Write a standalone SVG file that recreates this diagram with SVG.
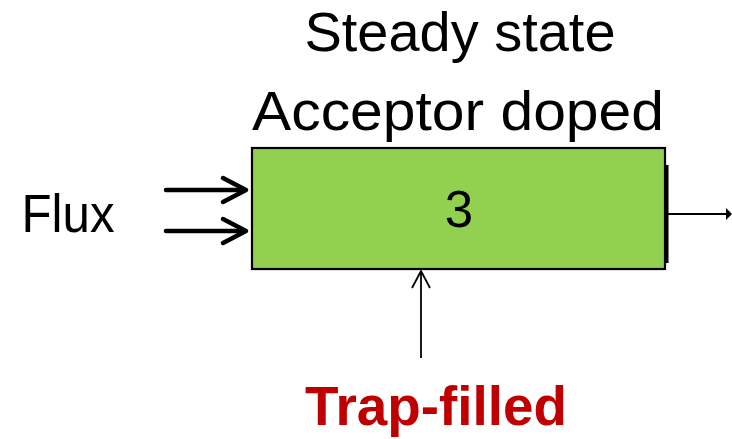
<svg xmlns="http://www.w3.org/2000/svg" width="732" height="439" viewBox="0 0 732 439">
<style>
text{font-family:"Liberation Sans",Arial,sans-serif;fill:#000}
.title{font-size:56px}
.thick{stroke:#000;stroke-width:4.5;fill:none;stroke-linecap:round;stroke-linejoin:round}
.thin{stroke:#000;stroke-width:1.8;fill:none}
</style>
<rect width="732" height="439" fill="#fff"/>
<g id="title">
<text class="title" x="460" y="51" text-anchor="middle" textLength="311" lengthAdjust="spacingAndGlyphs">Steady state</text>
<text class="title" x="458" y="130" text-anchor="middle" textLength="412" lengthAdjust="spacingAndGlyphs">Acceptor doped</text>
</g>
<g id="flux">
<text x="68" y="232" font-size="54" text-anchor="middle" textLength="93" lengthAdjust="spacingAndGlyphs">Flux</text>
</g>
<g id="box">
<rect x="252" y="148" width="413" height="121" fill="#92D050" stroke="#000" stroke-width="2.2"/>
<rect x="665" y="165" width="3.5" height="98" fill="#000"/>
<text x="459" y="227" font-size="51" text-anchor="middle">3</text>
</g>
<g id="trap">
<text x="436" y="425" font-size="55" font-weight="bold" style="fill:#C00000" text-anchor="middle" textLength="262" lengthAdjust="spacingAndGlyphs">Trap-filled</text>
</g>
<g id="connectors">
<line class="thick" x1="166" y1="190" x2="245" y2="190"/>
<polyline class="thick" points="223,178 246,190 223,202"/>
<line class="thick" x1="166" y1="231" x2="245" y2="231"/>
<polyline class="thick" points="223,219 246,231 223,243"/>
<line class="thin" x1="421" y1="358" x2="421" y2="271"/>
<polyline class="thin" points="412,288 421,271 430,288"/>
<line class="thin" x1="668" y1="214" x2="727" y2="214"/>
<polygon points="726,208 732,214 726,220" fill="#000"/>
</g>
</svg>
